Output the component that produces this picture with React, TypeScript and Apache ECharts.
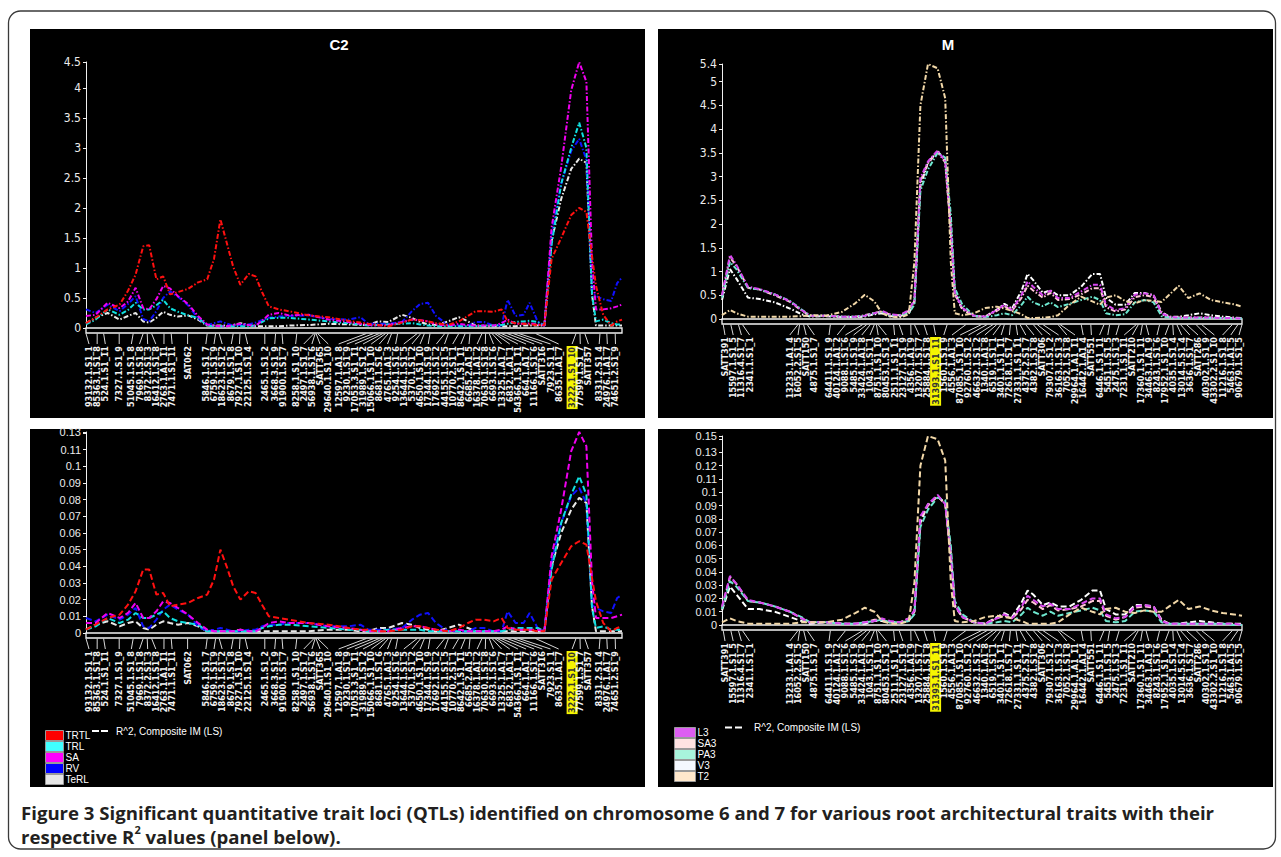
import React, { useEffect, useRef } from 'react';
import * as echarts from 'echarts';

// ---------- Marker maps (cM positions) ----------
const c2Markers = ['93132.1.S1_1','85363.1.S1_8','524.1.S1_11','7327.1.S1_9','51045.1.S1_8','7969.1.S1_8','8372.2.S1_3','16412.1.S1_8','2763.1.A1_11','7471.1.S1_11','SAT062','5846.1.S1_7','6759.1.S1_9','18623.1.S1_2','8679.1.S1_8','7927.1.S1_10','22125.1.S1_4','2465.1.S1_2','3668.3.S1_9','91900.1.S1_7','8258.1.S1_10','2497.1.S1_7','56938.1.S1_6','SATT365','29640.1.S1_10','12597.1.A1_8','9230.1.S1_9','17053.3.S1_11','31989.1.S1_2','15066.1.S1_10','8681.1.S1_6','4765.1.A1_3','9254.1.S1_6','13644.1.S1_5','5370.1.S1_2','4650.1.S1_10','17344.1.S1_9','17692.1.S1_2','44155.1.S1_5','10770.2.S1_1','8642.1.S1_11','6685.2.A1_5','16378.1.A1_2','70630.1.S1_8','6693.1.S1_6','13325.1.A1_7','6832.1.A1_1','54366.1.S1_11','664.1.A1_7','11166.1.S1_6','SATT316','7923.S1_1','8635.1.A1_7','3222.1.S1_10','77599.1.S1_7','SATT357','8331.2.S1_4','24976.1.A1_7','74651.2.S1_9'];
const c2MarkerPos = [0, 2.8, 4.4, 8.3, 11.8, 14.3, 15.3, 16.4, 19.5, 21.3, 25.4, 30.3, 32.4, 33.3, 36.8, 38.5, 39.8, 44.7, 47.4, 49, 52.7, 57, 57.3, 57.5, 57.9, 70.1, 71.9, 73.3, 74.2, 74.9, 75.6, 76.4, 77.9, 82.8, 83.7, 84.6, 86, 89.7, 90.6, 93.2, 94.8, 96, 99, 99.9, 100.8, 101.5, 102.2, 102.8, 103.8, 105.3, 106.8, 108.2, 112.4, 122.5, 123.5, 124.7, 128.5, 130.2, 132.3];
const c2Highlight = '3222.1.S1_10';
const c2Length = 134;

const mMarkers = ['SATT391','15597.1.S1_5','11316.4.S1_7','2341.1.S1_1','13233.1.A1_4','16052.2.S1_5','SATT150','4875.1.S1_7','64411.1.S1_9','40124.1.A1_2','9088.1.S1_6','5485.1.S1_9','33424.1.A1_8','1043.1.S1_1','8751.1.S1_10','80453.1.S1_3','2511.1.S1_11','23127.1.S1_9','4356.1.A1_9','13207.1.S1_7','25884.1.S1_8','31393.1.S1_11','1560.1.S1_9','4556.1.A1_3','87085.1.S1_10','92760.1.S1_2','46632.1.S1_2','1340.1.A1_8','6519.1.S1_1','3401.1.S1_11','72618.1.S1_7','27331.1.S1_11','4375.2.S1_7','4382.1.S1_8','SATT306','79307.1.S1_2','36163.1.S1_3','7052.1.S1_8','29964.1.A1_11','16442.1.A1_4','SATT551','6446.1.S1_11','5451.1.S1_5','2475.1.S1_3','7231.1.S1_11','SATT210','17360.1.S1_11','34463.1.A1_9','8243.1.S1_6','17952.1.S1_10','4035.1.S1_4','13014.5.S1_4','3636.1.S1_7','SATT286','40302.1.S1_9','43302.2.S1_10','11216.1.S1_8','5463.1.A1_5','90679.1.S1_5'];
const mMarkerPos = [0.3, 2.2, 4.1, 5.1, 19, 19.4, 20.4, 21.3, 27.1, 30.9, 35.2, 36.2, 37.1, 38.1, 38.6, 39, 42.9, 44.3, 47.2, 48.1, 50.5, 52.9, 56.3, 61, 64.9, 66.3, 67.8, 68.7, 69.7, 70.6, 72.1, 73.5, 74.5, 75.9, 77.8, 78.8, 80.2, 84, 84.5, 89.8, 92.2, 95.5, 96.9, 99.3, 103.6, 104.1, 105.1, 106, 109.4, 111.8, 112.7, 113.7, 114.6, 116.1, 118.5, 119.9, 127.6, 129, 130];
const mHighlight = '31393.1.S1_11';
const mLength = 130;

// ---------- C2 scan positions (cM) and values ----------
const c2Pos = [0, 2.4, 5.4, 8.4, 10.5, 12.4, 14.3, 15.8, 17.6, 19.3, 21, 23, 25.5, 28, 30.3, 32, 33.6, 35.3, 36.8, 38.6, 40.7, 42.4, 44, 45.7, 48.2, 50.7, 55.7, 60.6, 65.6, 68.6, 70.6, 73, 75.6, 79, 81.5, 83.5, 85.5, 87.5, 90.5, 93.2, 95.5, 97.4, 99.5, 101.9, 103.9, 105.4, 107.4, 109.4, 110.9, 112.9, 114.6, 116.4, 118.8, 121.3, 123.3, 125.1, 126.5, 127.5, 129.3, 131.3, 132.8, 134];

const c2LodTRTL = [0.08, 0.17, 0.31, 0.39, 0.62, 0.89, 1.36, 1.38, 0.81, 0.86, 0.56, 0.60, 0.65, 0.76, 0.81, 1.15, 1.81, 1.39, 1.02, 0.72, 0.90, 0.86, 0.60, 0.36, 0.31, 0.28, 0.21, 0.18, 0.12, 0.09, 0.07, 0.05, 0.03, 0.09, 0.14, 0.13, 0.11, 0.08, 0.05, 0.11, 0.20, 0.28, 0.28, 0.27, 0.31, 0.11, 0.08, 0.07, 0.06, 0.05, 0.05, 1.15, 1.50, 1.88, 2.00, 1.93, 1.20, 0.70, 0.22, 0.04, 0.11, 0.14];
const c2LodTRL = [0.06, 0.14, 0.31, 0.22, 0.30, 0.42, 0.31, 0.31, 0.38, 0.47, 0.33, 0.27, 0.21, 0.17, 0.04, 0.03, 0.03, 0.03, 0.03, 0.03, 0.03, 0.04, 0.10, 0.16, 0.17, 0.17, 0.14, 0.11, 0.08, 0.06, 0.04, 0.05, 0.06, 0.07, 0.08, 0.06, 0.04, 0.03, 0.03, 0.03, 0.03, 0.03, 0.04, 0.04, 0.05, 0.07, 0.10, 0.11, 0.12, 0.10, 0.04, 1.39, 2.40, 3.00, 3.42, 3.00, 0.56, 0.11, 0.14, 0.08, 0.06, 0.06];
const c2LodSA = [0.20, 0.22, 0.42, 0.33, 0.44, 0.67, 0.33, 0.31, 0.48, 0.70, 0.66, 0.53, 0.40, 0.20, 0.06, 0.04, 0.03, 0.03, 0.05, 0.07, 0.05, 0.04, 0.12, 0.22, 0.25, 0.21, 0.22, 0.14, 0.10, 0.07, 0.05, 0.04, 0.05, 0.10, 0.14, 0.13, 0.11, 0.06, 0.04, 0.07, 0.05, 0.04, 0.04, 0.04, 0.08, 0.14, 0.07, 0.07, 0.08, 0.06, 0.04, 1.67, 2.68, 3.96, 4.43, 4.10, 1.11, 0.31, 0.31, 0.33, 0.36, 0.39];
const c2LodRV = [0.31, 0.25, 0.39, 0.28, 0.40, 0.53, 0.15, 0.11, 0.28, 0.50, 0.61, 0.52, 0.38, 0.16, 0.05, 0.08, 0.11, 0.07, 0.04, 0.05, 0.06, 0.09, 0.13, 0.17, 0.19, 0.20, 0.21, 0.15, 0.14, 0.18, 0.07, 0.07, 0.07, 0.10, 0.28, 0.40, 0.42, 0.20, 0.05, 0.04, 0.04, 0.10, 0.10, 0.04, 0.04, 0.47, 0.20, 0.22, 0.42, 0.11, 0.04, 1.56, 2.40, 2.95, 3.15, 2.80, 0.60, 0.53, 0.48, 0.45, 0.75, 0.84];
const c2LodTeRL = [0.08, 0.17, 0.25, 0.14, 0.20, 0.25, 0.11, 0.09, 0.17, 0.27, 0.22, 0.19, 0.21, 0.14, 0.04, 0.04, 0.04, 0.04, 0.05, 0.08, 0.05, 0.03, 0.03, 0.03, 0.03, 0.04, 0.05, 0.07, 0.06, 0.05, 0.05, 0.11, 0.10, 0.22, 0.17, 0.10, 0.06, 0.05, 0.11, 0.18, 0.11, 0.04, 0.03, 0.03, 0.03, 0.03, 0.03, 0.04, 0.04, 0.04, 0.04, 1.45, 2.15, 2.65, 2.82, 2.75, 0.56, 0.04, 0.04, 0.04, 0.04, 0.04];

const c2R2TRTL = [0.002, 0.005, 0.009, 0.011, 0.017, 0.025, 0.038, 0.038, 0.023, 0.024, 0.016, 0.017, 0.018, 0.021, 0.023, 0.032, 0.050, 0.039, 0.028, 0.020, 0.025, 0.024, 0.017, 0.010, 0.009, 0.008, 0.006, 0.005, 0.003, 0.002, 0.002, 0.001, 0.001, 0.002, 0.004, 0.004, 0.003, 0.002, 0.001, 0.003, 0.006, 0.008, 0.008, 0.007, 0.009, 0.003, 0.002, 0.002, 0.002, 0.001, 0.001, 0.032, 0.042, 0.052, 0.055, 0.053, 0.033, 0.019, 0.006, 0.001, 0.003, 0.004];
const c2R2TRL = [0.002, 0.004, 0.009, 0.006, 0.008, 0.012, 0.009, 0.009, 0.011, 0.013, 0.009, 0.007, 0.006, 0.005, 0.001, 0.001, 0.001, 0.001, 0.001, 0.001, 0.001, 0.001, 0.003, 0.004, 0.005, 0.005, 0.004, 0.003, 0.002, 0.002, 0.001, 0.001, 0.002, 0.002, 0.002, 0.002, 0.001, 0.001, 0.001, 0.001, 0.001, 0.001, 0.001, 0.001, 0.001, 0.002, 0.003, 0.003, 0.003, 0.003, 0.001, 0.038, 0.066, 0.083, 0.094, 0.083, 0.015, 0.003, 0.004, 0.002, 0.002, 0.002];
const c2R2SA = [0.006, 0.006, 0.012, 0.009, 0.012, 0.018, 0.009, 0.009, 0.013, 0.019, 0.018, 0.015, 0.011, 0.006, 0.002, 0.001, 0.001, 0.001, 0.001, 0.002, 0.001, 0.001, 0.003, 0.006, 0.007, 0.006, 0.006, 0.004, 0.003, 0.002, 0.001, 0.001, 0.001, 0.003, 0.004, 0.004, 0.003, 0.002, 0.001, 0.002, 0.001, 0.001, 0.001, 0.001, 0.002, 0.004, 0.002, 0.002, 0.002, 0.002, 0.001, 0.046, 0.074, 0.109, 0.1205, 0.112, 0.031, 0.009, 0.009, 0.009, 0.010, 0.011];
const c2R2RV = [0.009, 0.007, 0.011, 0.008, 0.011, 0.015, 0.004, 0.003, 0.008, 0.014, 0.017, 0.014, 0.011, 0.004, 0.001, 0.002, 0.003, 0.002, 0.001, 0.001, 0.002, 0.002, 0.004, 0.005, 0.005, 0.006, 0.006, 0.004, 0.004, 0.005, 0.002, 0.002, 0.002, 0.003, 0.008, 0.011, 0.012, 0.006, 0.001, 0.001, 0.001, 0.003, 0.003, 0.001, 0.001, 0.013, 0.006, 0.006, 0.012, 0.003, 0.001, 0.043, 0.066, 0.082, 0.087, 0.078, 0.017, 0.015, 0.013, 0.012, 0.021, 0.023];
const c2R2TeRL = [0.002, 0.005, 0.007, 0.004, 0.006, 0.007, 0.003, 0.002, 0.005, 0.007, 0.006, 0.005, 0.006, 0.004, 0.001, 0.001, 0.001, 0.001, 0.001, 0.002, 0.001, 0.001, 0.001, 0.001, 0.001, 0.001, 0.001, 0.002, 0.002, 0.001, 0.001, 0.003, 0.003, 0.006, 0.005, 0.003, 0.002, 0.001, 0.003, 0.005, 0.003, 0.001, 0.001, 0.001, 0.001, 0.001, 0.001, 0.001, 0.001, 0.001, 0.001, 0.040, 0.060, 0.074, 0.081, 0.078, 0.016, 0.001, 0.001, 0.001, 0.001, 0.001];

// ---------- M scan positions (cM) and values ----------
const mPos = [0, 2, 3.6, 6.5, 9.4, 13.2, 17, 19.9, 22, 26, 30, 33.3, 35.7, 38.1, 40, 42, 44.5, 46.7, 48.1, 49.6, 51.5, 53.9, 55.8, 57.2, 58.2, 60.1, 63, 65.8, 68.7, 70.6, 72.5, 74.9, 76.4, 77.8, 80.2, 82.1, 84, 86.9, 89.8, 92.6, 94.5, 96, 98.4, 100.8, 103.2, 105.6, 107.9, 109.9, 111.8, 114.2, 116.6, 119.4, 122.3, 125.2, 128, 130];

const mLodL3 = [0.50, 1.35, 1.14, 0.68, 0.63, 0.52, 0.37, 0.19, 0.07, 0.07, 0.05, 0.05, 0.07, 0.12, 0.17, 0.10, 0.08, 0.19, 0.40, 2.97, 3.32, 3.55, 3.32, 1.90, 0.55, 0.23, 0.07, 0.05, 0.19, 0.30, 0.19, 0.51, 0.79, 0.68, 0.50, 0.60, 0.44, 0.44, 0.58, 0.72, 0.72, 0.30, 0.19, 0.23, 0.51, 0.54, 0.50, 0.12, 0.05, 0.03, 0.03, 0.03, 0.03, 0.02, 0.02, 0.01];
const mLodSA3 = [0.48, 1.30, 1.12, 0.66, 0.62, 0.50, 0.36, 0.18, 0.07, 0.07, 0.05, 0.05, 0.08, 0.13, 0.16, 0.09, 0.08, 0.17, 0.38, 2.90, 3.28, 3.52, 3.30, 1.85, 0.52, 0.21, 0.06, 0.05, 0.17, 0.27, 0.17, 0.45, 0.70, 0.60, 0.45, 0.55, 0.40, 0.42, 0.52, 0.65, 0.65, 0.25, 0.16, 0.20, 0.46, 0.50, 0.46, 0.10, 0.04, 0.03, 0.03, 0.03, 0.03, 0.02, 0.02, 0.01];
const mLodPA3 = [0.45, 1.20, 1.05, 0.65, 0.62, 0.52, 0.38, 0.20, 0.07, 0.07, 0.05, 0.05, 0.07, 0.12, 0.15, 0.08, 0.08, 0.12, 0.30, 2.70, 3.15, 3.50, 3.40, 2.20, 0.65, 0.30, 0.07, 0.04, 0.08, 0.12, 0.08, 0.30, 0.47, 0.35, 0.27, 0.35, 0.25, 0.32, 0.40, 0.47, 0.40, 0.12, 0.08, 0.10, 0.35, 0.40, 0.35, 0.06, 0.03, 0.02, 0.02, 0.02, 0.02, 0.02, 0.01, 0.01];
const mLodV3 = [0.40, 1.05, 0.85, 0.45, 0.42, 0.35, 0.22, 0.10, 0.05, 0.06, 0.04, 0.04, 0.05, 0.10, 0.12, 0.06, 0.06, 0.12, 0.35, 2.80, 3.30, 3.53, 3.35, 1.95, 0.55, 0.20, 0.06, 0.05, 0.20, 0.32, 0.22, 0.60, 0.95, 0.82, 0.55, 0.60, 0.50, 0.50, 0.68, 0.95, 0.95, 0.45, 0.30, 0.30, 0.55, 0.55, 0.50, 0.15, 0.05, 0.05, 0.08, 0.12, 0.08, 0.05, 0.03, 0.02];
const mLodT2 = [0.08, 0.19, 0.12, 0.05, 0.05, 0.05, 0.05, 0.06, 0.08, 0.07, 0.15, 0.33, 0.51, 0.37, 0.12, 0.05, 0.03, 0.10, 1.20, 4.50, 5.37, 5.28, 4.65, 1.20, 0.12, 0.08, 0.12, 0.23, 0.26, 0.22, 0.17, 0.10, 0.02, 0.02, 0.03, 0.04, 0.08, 0.30, 0.47, 0.37, 0.30, 0.45, 0.50, 0.38, 0.33, 0.40, 0.38, 0.36, 0.51, 0.70, 0.44, 0.54, 0.40, 0.35, 0.31, 0.26];

const mR2L3 = [0.014, 0.037, 0.031, 0.019, 0.017, 0.014, 0.010, 0.005, 0.002, 0.002, 0.001, 0.001, 0.002, 0.003, 0.005, 0.003, 0.002, 0.005, 0.011, 0.082, 0.091, 0.098, 0.091, 0.052, 0.015, 0.006, 0.002, 0.001, 0.005, 0.008, 0.005, 0.014, 0.022, 0.019, 0.014, 0.016, 0.012, 0.012, 0.016, 0.020, 0.020, 0.008, 0.005, 0.006, 0.014, 0.015, 0.014, 0.003, 0.001, 0.001, 0.001, 0.001, 0.001, 0.001, 0.001, 0.000];
const mR2SA3 = [0.013, 0.036, 0.031, 0.018, 0.017, 0.014, 0.010, 0.005, 0.002, 0.002, 0.001, 0.001, 0.002, 0.004, 0.004, 0.002, 0.002, 0.005, 0.010, 0.080, 0.090, 0.097, 0.091, 0.051, 0.014, 0.006, 0.002, 0.001, 0.005, 0.007, 0.005, 0.012, 0.019, 0.017, 0.012, 0.015, 0.011, 0.012, 0.014, 0.018, 0.018, 0.007, 0.004, 0.006, 0.013, 0.014, 0.013, 0.003, 0.001, 0.001, 0.001, 0.001, 0.001, 0.001, 0.001, 0.000];
const mR2PA3 = [0.012, 0.033, 0.029, 0.018, 0.017, 0.014, 0.010, 0.006, 0.002, 0.002, 0.001, 0.001, 0.002, 0.003, 0.004, 0.002, 0.002, 0.003, 0.008, 0.074, 0.087, 0.096, 0.094, 0.060, 0.018, 0.008, 0.002, 0.001, 0.002, 0.003, 0.002, 0.008, 0.013, 0.010, 0.007, 0.010, 0.007, 0.009, 0.011, 0.013, 0.011, 0.003, 0.002, 0.003, 0.010, 0.011, 0.010, 0.002, 0.001, 0.001, 0.001, 0.001, 0.001, 0.001, 0.000, 0.000];
const mR2V3 = [0.011, 0.029, 0.023, 0.012, 0.012, 0.010, 0.006, 0.003, 0.001, 0.002, 0.001, 0.001, 0.001, 0.003, 0.003, 0.002, 0.002, 0.003, 0.010, 0.077, 0.091, 0.097, 0.092, 0.054, 0.015, 0.006, 0.002, 0.001, 0.006, 0.009, 0.006, 0.017, 0.026, 0.023, 0.015, 0.017, 0.014, 0.014, 0.019, 0.026, 0.026, 0.012, 0.008, 0.008, 0.015, 0.015, 0.014, 0.004, 0.001, 0.001, 0.002, 0.003, 0.002, 0.001, 0.001, 0.001];
const mR2T2 = [0.002, 0.005, 0.003, 0.001, 0.001, 0.001, 0.001, 0.002, 0.002, 0.002, 0.004, 0.009, 0.013, 0.010, 0.003, 0.001, 0.001, 0.003, 0.032, 0.120, 0.1424, 0.140, 0.124, 0.032, 0.003, 0.002, 0.003, 0.006, 0.007, 0.006, 0.005, 0.003, 0.001, 0.001, 0.001, 0.001, 0.002, 0.008, 0.013, 0.010, 0.008, 0.012, 0.013, 0.010, 0.009, 0.011, 0.010, 0.010, 0.014, 0.019, 0.012, 0.014, 0.011, 0.009, 0.008, 0.007];

// ---------- traits ----------
const c2Traits = [
  { name: 'TeRL', color: '#e8e8e8', swatch: '#e6e6e6', lod: c2LodTeRL, r2: c2R2TeRL },
  { name: 'RV', color: '#1010ff', swatch: '#0000ff', lod: c2LodRV, r2: c2R2RV },
  { name: 'TRL', color: '#10e0e0', swatch: '#40ffff', lod: c2LodTRL, r2: c2R2TRL },
  { name: 'SA', color: '#f000f0', swatch: '#ff00ff', lod: c2LodSA, r2: c2R2SA },
  { name: 'TRTL', color: '#ff1010', swatch: '#ff0000', lod: c2LodTRTL, r2: c2R2TRTL },
];
const c2LegendOrder = ['TRTL', 'TRL', 'SA', 'RV', 'TeRL'];
const mTraits = [
  { name: 'V3', color: '#ffffff', swatch: '#f4f8ff', lod: mLodV3, r2: mR2V3 },
  { name: 'SA3', color: '#ffc8d8', swatch: '#ffe2e2', lod: mLodSA3, r2: mR2SA3 },
  { name: 'PA3', color: '#6ee8d0', swatch: '#a8f4dc', lod: mLodPA3, r2: mR2PA3 },
  { name: 'L3', color: '#d848f0', swatch: '#dd5ef2', lod: mLodL3, r2: mR2L3 },
  { name: 'T2', color: '#f2d8a8', swatch: '#ffe8cc', lod: mLodT2, r2: mR2T2 },
];
const mLegendOrder = ['L3', 'SA3', 'PA3', 'V3', 'T2'];

const NARROW = '"Liberation Sans Narrow", "DejaVu Sans Condensed", "Liberation Sans", sans-serif';
const ARIAL = '"Liberation Sans", Arial, sans-serif';
const CAPTION_FONT = '"Open Sans", "Noto Sans", sans-serif';

function spread(xs: number[], gap: number, lo: number, hi: number): number[] {
  const st: { n: number; s: number; p: number }[] = [];
  const fix = (c: { n: number; s: number; p: number }) => {
    c.p = Math.min(Math.max(c.s / c.n, lo), hi - (c.n - 1) * gap);
  };
  for (const x of xs) {
    const c = { n: 1, s: x, p: 0 };
    fix(c);
    st.push(c);
    while (st.length > 1) {
      const b = st[st.length - 1];
      const a = st[st.length - 2];
      if (b.p < a.p + a.n * gap - 1e-6) {
        a.s = a.s + b.s - b.n * a.n * gap;
        a.n += b.n;
        fix(a);
        st.pop();
      } else break;
    }
  }
  const out: number[] = [];
  for (const c of st) for (let k = 0; k < c.n; k++) out.push(c.p + k * gap);
  return out;
}

function buildOption() {
  const panels = [
    { grid: { left: 86, top: 62, width: 536, height: 266 }, xMax: c2Length, interval: 0.5, dec: 1, pos: c2Pos, traits: c2Traits, field: 'lod', dash: [5, 2, 1.5, 2], markers: c2Markers, markerPos: c2MarkerPos, hl: c2Highlight, labelFont: NARROW, labelSize: 12, gap: 8.15 },
    { grid: { left: 722, top: 64, width: 520, height: 255 }, xMax: mLength, interval: 0.5, dec: 1, pos: mPos, traits: mTraits, field: 'lod', dash: [5, 2, 1.5, 2], markers: mMarkers, markerPos: mMarkerPos, hl: mHighlight, labelFont: NARROW, labelSize: 12, gap: 8.2 },
    { grid: { left: 86, top: 432, width: 536, height: 201 }, xMax: c2Length, interval: 0.01, dec: 2, pos: c2Pos, traits: c2Traits, field: 'r2', dash: [6, 3], markers: c2Markers, markerPos: c2MarkerPos, hl: c2Highlight, labelFont: ARIAL, labelSize: 11, gap: 8.15 },
    { grid: { left: 722, top: 436, width: 520, height: 189 }, xMax: mLength, interval: 0.01, dec: 2, pos: mPos, traits: mTraits, field: 'r2', dash: [6, 3], markers: mMarkers, markerPos: mMarkerPos, hl: mHighlight, labelFont: ARIAL, labelSize: 11, gap: 8.2 },
  ];

  const grid: any[] = [];
  const xAxis: any[] = [];
  const yAxis: any[] = [];
  const series: any[] = [];

  panels.forEach((p, pi) => {
    grid.push({ ...p.grid, show: false, containLabel: false, outerBoundsMode: 'none' });
    xAxis.push({ type: 'value', gridIndex: pi, min: 0, max: p.xMax, show: false });
    let yMax = 0;
    p.traits.forEach((t: any) => t[p.field].forEach((v: number) => { if (v > yMax) yMax = v; }));
    const f = Math.pow(10, p.dec);
    yAxis.push({
      type: 'value', gridIndex: pi, min: 0, max: yMax, interval: p.interval,
      axisLine: { show: true, lineStyle: { color: '#f0f0f0', width: 1 } },
      axisTick: { show: true, length: 3, lineStyle: { color: '#f0f0f0' } },
      splitLine: { show: false },
      axisLabel: {
        color: '#ececec', fontFamily: p.labelFont, fontSize: p.labelSize, margin: 5,
        formatter: (v: number) => {
          if (Math.abs(v - yMax) < 1e-9) return String(Math.ceil(yMax * f - 1e-9) / f);
          if (yMax - v < p.interval * 0.3) return '';
          return String(Math.round(v * f) / f);
        },
      },
    });
    p.traits.forEach((t: any) => {
      const vals = t[p.field] as number[];
      series.push({
        type: 'line', name: t.name, xAxisIndex: pi, yAxisIndex: pi, z: 3,
        data: p.pos.map((x, i) => [x, vals[i]]),
        symbol: 'none', showSymbol: false, color: t.color,
        lineStyle: { color: t.color, width: 2, type: p.dash },
      });
    });
    series.push({
      type: 'custom', xAxisIndex: pi, yAxisIndex: pi, z: 2, silent: true, clip: false,
      data: p.markerPos.map((x) => [x, 0]),
      renderItem: (params: any, api: any) => {
        const i = params.dataIndex;
        const o = api.coord([0, 0]);
        const e = api.coord([p.xMax, 0]);
        const y0 = o[1];
        const pxs = p.markerPos.map((x) => api.coord([x, 0])[0]);
        const lxs = spread(pxs, p.gap, o[0] + 3, e[0] - 3);
        const name = p.markers[i];
        const hl = name === p.hl;
        const children: any[] = [];
        if (i === 0) {
          children.push({ type: 'rect', shape: { x: o[0], y: y0, width: e[0] - o[0], height: 5 }, style: { fill: '#000', stroke: '#f4f4f4', lineWidth: 1.3 } });
        }
        children.push({ type: 'line', shape: { x1: pxs[i], y1: y0 + 5.5, x2: lxs[i], y2: y0 + 16 }, style: { stroke: '#d8d8d8', lineWidth: 1 } });
        children.push({
          type: 'text', x: lxs[i], y: y0 + 18, rotation: Math.PI / 2,
          style: {
            text: name, align: 'right', verticalAlign: 'middle',
            fill: hl ? '#333' : '#f2f2f2', fontSize: 9, fontWeight: 'bold', fontFamily: NARROW,
            backgroundColor: hl ? '#f5f500' : 'transparent', padding: hl ? [1, 1] : 0,
          },
        });
        return { type: 'group', children };
      },
    });
  });

  const legendBase = {
    orient: 'vertical', itemWidth: 18, itemHeight: 10, itemGap: 0, icon: 'rect', selectedMode: false,
    textStyle: { color: '#ffffff', fontSize: 10, fontFamily: ARIAL, lineHeight: 10, padding: [0, 0, 0, -3] },
    lineStyle: { width: 0 },
  };
  const legendData = (order: string[], traits: any[]) => order.map((n) => {
    const t = traits.find((tt: any) => tt.name === n);
    return { name: n, icon: 'rect', itemStyle: { color: t.swatch, borderColor: '#9a9a9a', borderWidth: 1 } };
  });

  const caption1 = 'Figure 3 Significant quantitative trait loci (QTLs) identified on chromosome 6 and 7 for various root architectural traits with their';

  const graphic: any[] = [
    { type: 'rect', shape: { x: 8.5, y: 11, width: 1267, height: 838, r: 12 }, style: { fill: '#fff', stroke: '#3a3a3a', lineWidth: 1.3 } },
    { type: 'rect', shape: { x: 30, y: 29, width: 615, height: 389 }, style: { fill: '#000' } },
    { type: 'rect', shape: { x: 658, y: 29, width: 615, height: 389 }, style: { fill: '#000' } },
    { type: 'rect', shape: { x: 30, y: 429, width: 615, height: 358 }, style: { fill: '#000' } },
    { type: 'rect', shape: { x: 658, y: 429, width: 615, height: 358 }, style: { fill: '#000' } },
    { type: 'text', x: 339, y: 44, style: { text: 'C2', align: 'center', verticalAlign: 'middle', fill: '#fff', fontSize: 15, fontWeight: 'bold', fontFamily: ARIAL } },
    { type: 'text', x: 948, y: 44, style: { text: 'M', align: 'center', verticalAlign: 'middle', fill: '#fff', fontSize: 15, fontWeight: 'bold', fontFamily: ARIAL } },
    { type: 'line', shape: { x1: 92, y1: 731, x2: 108, y2: 731 }, style: { stroke: '#fff', lineWidth: 2, lineDash: [7, 2] } },
    { type: 'text', x: 116, y: 731, style: { text: 'R^2, Composite IM (LS)', align: 'left', verticalAlign: 'middle', fill: '#fff', fontSize: 10, fontFamily: ARIAL } },
    { type: 'line', shape: { x1: 725, y1: 727.5, x2: 743, y2: 727.5 }, style: { stroke: '#fff', lineWidth: 2, lineDash: [7, 3] } },
    { type: 'text', x: 754, y: 727.5, style: { text: 'R^2, Composite IM (LS)', align: 'left', verticalAlign: 'middle', fill: '#fff', fontSize: 10, fontFamily: ARIAL } },
    { type: 'text', x: 21, y: 812, style: { text: caption1, align: 'left', verticalAlign: 'middle', fill: '#231f20', fontSize: 18.6, fontWeight: 'bold', fontFamily: CAPTION_FONT } },
    { type: 'text', x: 21, y: 836, style: { text: 'respective R{sup|2} values (panel below).', align: 'left', verticalAlign: 'middle', fill: '#231f20', fontSize: 18.6, fontWeight: 'bold', fontFamily: CAPTION_FONT, lineHeight: 24, rich: { sup: { fontSize: 11, fontWeight: 'bold', fontFamily: CAPTION_FONT, fill: '#231f20', verticalAlign: 'top', lineHeight: 24, padding: [0, 0, 10, 0] } } } },
  ];

  return {
    animation: false,
    backgroundColor: '#ffffff',
    grid, xAxis, yAxis, series, graphic,
    legend: [
      { ...legendBase, left: 40, top: 725, data: legendData(c2LegendOrder, c2Traits) },
      { ...legendBase, left: 669, top: 722, itemWidth: 21, data: legendData(mLegendOrder, mTraits) },
    ],
  };
}

export default function App() {
  const ref = useRef<HTMLDivElement>(null);
  useEffect(() => {
    if (!ref.current) return;
    const chart = echarts.init(ref.current, null, { renderer: 'svg' });
    chart.setOption(buildOption() as any);
    return () => chart.dispose();
  }, []);
  return <div ref={ref} style={{ position: 'fixed', left: 0, top: 0, width: 1281, height: 857, background: '#fff' }} />;
}
